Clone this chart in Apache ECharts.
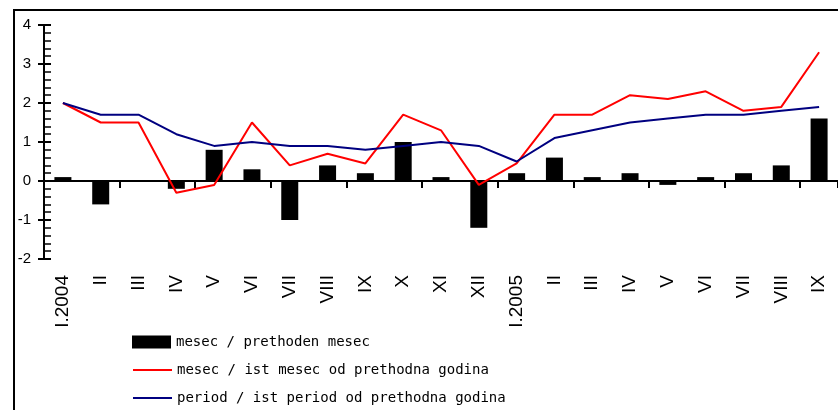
<!DOCTYPE html>
<html>
<head>
<meta charset="utf-8">
<script src="https://cdn.jsdelivr.net/npm/echarts@6/dist/echarts.min.js"></script>
<style>
html,body{margin:0;padding:0;background:#fff;}
#c{width:838px;height:410px;}
</style>
</head>
<body>
<div id="c"></div>
<script>
const categories = ['I.2004','II','III','IV','V','VI','VII','VIII','IX','X','XI','XII','I.2005','II','III','IV','V','VI','VII','VIII','IX'];
const monthPrev = [0.1,-0.6,0,-0.2,0.8,0.3,-1.0,0.4,0.2,1.0,0.1,-1.2,0.2,0.6,0.1,0.2,-0.1,0.1,0.2,0.4,1.6];
const monthYear = [2.0,1.5,1.5,-0.3,-0.1,1.5,0.4,0.7,0.45,1.7,1.3,-0.1,0.45,1.7,1.7,2.2,2.1,2.3,1.8,1.9,3.3];
const periodYear = [2.0,1.7,1.7,1.2,0.9,1.0,0.9,0.9,0.8,0.9,1.0,0.9,0.5,1.1,1.3,1.5,1.6,1.7,1.7,1.8,1.9];
const yTicks = {min:-2, max:4, interval:1};
const names = ['mesec / prethoden mesec','mesec / ist mesec od prethodna godina','period / ist period od prethodna godina'];

const font = 'Liberation Sans, Arial, sans-serif';
const legendFont = 'DejaVu Sans Mono, monospace';
function legendAt(name, top, extra) {
  return Object.assign({
    orient:'vertical', left:132, top:top, padding:0, itemWidth:39, itemHeight:13,
    textStyle:{fontFamily:legendFont, fontSize:14, color:'#000'},
    data:[name]
  }, extra || {});
}
const chart = echarts.init(document.getElementById('c'), null, {renderer:'canvas'});
chart.setOption({
  animation:false,
  backgroundColor:'#fff',
  grid:{left:44, top:25, width:795, height:234, containLabel:false},
  graphic:[{type:'rect', shape:{x:14,y:10,width:900,height:500}, style:{fill:'none', stroke:'#000', lineWidth:2}, z:100}],
  legend:[
    legendAt(names[0], 335, {data:[{name:names[0], icon:'rect'}]}),
    legendAt(names[1], 363, {data:[{name:names[1], itemStyle:{opacity:0}}]}),
    legendAt(names[2], 391, {data:[{name:names[2], itemStyle:{opacity:0}}]})
  ],
  xAxis:[
    {type:'category', data:categories, position:'bottom',
     axisLine:{onZero:true, lineStyle:{color:'#000', width:2}},
     axisTick:{show:true, length:7, lineStyle:{color:'#000', width:2}},
     axisLabel:{show:false}},
    {type:'category', data:categories, position:'bottom',
     axisLine:{show:false, onZero:false}, axisTick:{show:false},
     axisLabel:{show:true, rotate:90, margin:16, interval:0, fontFamily:font, fontSize:19, color:'#000'}}
  ],
  yAxis:[
    {type:'value', min:yTicks.min, max:yTicks.max, interval:yTicks.interval, position:'left',
     axisLine:{show:true, lineStyle:{color:'#000', width:2}},
     axisTick:{show:true, inside:true, length:7, lineStyle:{color:'#000', width:2}},
     minorTick:{show:true, splitNumber:5, length:7, lineStyle:{color:'#000', width:1.5}},
     splitLine:{show:false},
     axisLabel:{margin:13, fontFamily:font, fontSize:15, color:'#000'}},
    {type:'value', min:yTicks.min, max:yTicks.max, interval:yTicks.interval, position:'left',
     axisLine:{show:false}, axisTick:{show:true, inside:false, length:6, lineStyle:{color:'#000', width:2}},
     axisLabel:{show:false}, splitLine:{show:false}}
  ],
  series:[
    {name:names[0], type:'bar', data:monthPrev, barWidth:17, itemStyle:{color:'#000'}, xAxisIndex:0, yAxisIndex:0, z:2},
    {name:names[1], type:'line', data:monthYear, symbol:'none', lineStyle:{color:'#ff0000', width:2}, itemStyle:{color:'#ff0000'}, xAxisIndex:0, yAxisIndex:0, z:3},
    {name:names[2], type:'line', data:periodYear, symbol:'none', lineStyle:{color:'#000080', width:2}, itemStyle:{color:'#000080'}, xAxisIndex:0, yAxisIndex:0, z:4}
  ]
});
</script>
</body>
</html>
